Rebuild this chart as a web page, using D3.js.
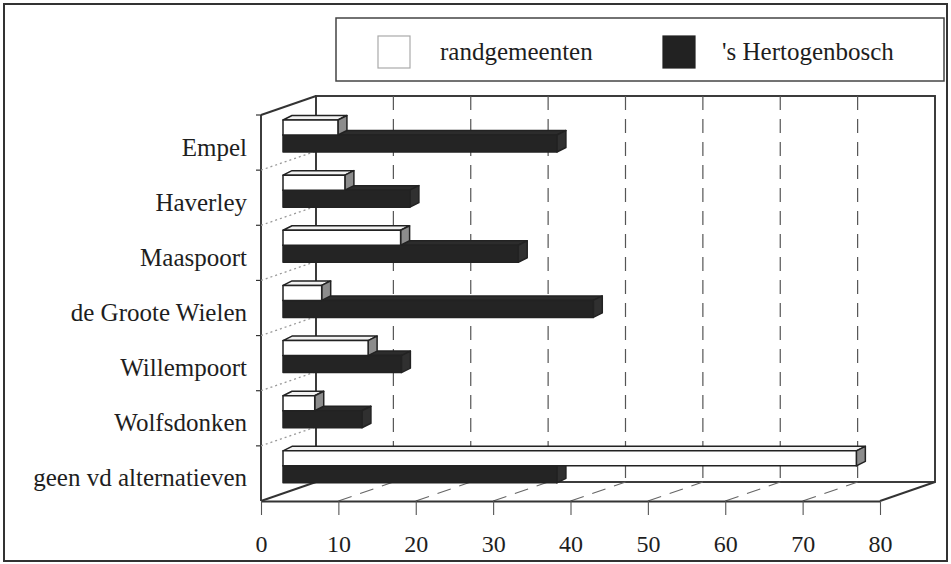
<!DOCTYPE html>
<html>
<head>
<meta charset="utf-8">
<script src="https://cdn.jsdelivr.net/npm/d3@7/dist/d3.min.js"></script>
<style>
  html, body { margin: 0; padding: 0; background: #fff; }
  svg { display: block; }
  text { font-family: "Liberation Serif", "Times New Roman", serif; fill: #1e1e1e; }
</style>
</head>
<body>
<svg id="chart" width="951" height="564"></svg>
<script>
// Categories (top to bottom) and the two series, in percent
const categories = ["Empel", "Haverley", "Maaspoort", "de Groote Wielen", "Willempoort", "Wolfsdonken", "geen vd alternatieven"];
const randgemeenten = [7.1, 8.0, 15.2, 5.0, 11.0, 4.1, 74.1];
const hertogenbosch = [35.4, 16.4, 30.4, 40.1, 15.3, 10.2, 35.4];
const seriesNames = ["randgemeenten", "'s Hertogenbosch"];
const xTicks = [0, 10, 20, 30, 40, 50, 60, 70, 80];

// 3D box geometry
const frontX0 = 261;           // x of value 0 on the front floor edge
const floorY = 501;            // front floor edge
const wallTop = 115;           // top of left wall front edge
const depth = { dx: 55, dy: -19 };   // box depth vector
const barX0 = 283;             // value 0 in the plane of the bars
const barDepth = { dx: 9, dy: -4.5 }; // bar extrusion
const ink = "#222";
const fontSize = 25;

const svg = d3.select("#chart");

const x = d3.scaleLinear().domain([0, 80]).range([0, 619]);
const y = d3.scaleBand().domain(categories).range([wallTop, floorY]);

const backX0 = frontX0 + depth.dx;
const backTop = wallTop + depth.dy;
const backBottom = floorY + depth.dy;
const backX1 = backX0 + x(80);
const frontX1 = frontX0 + x(80);

// outer frame
svg.append("rect")
  .attr("x", 4).attr("y", 4).attr("width", 943).attr("height", 557)
  .attr("fill", "none").attr("stroke", "#333").attr("stroke-width", 2);

// legend
const legend = svg.append("g");
legend.append("rect")
  .attr("x", 336).attr("y", 18).attr("width", 608).attr("height", 63)
  .attr("fill", "#fff").attr("stroke", "#444").attr("stroke-width", 1.5);
const legendItems = [
  { name: seriesNames[0], sx: 378, tx: 440, fill: "#fff", stroke: "#aaa" },
  { name: seriesNames[1], sx: 663, tx: 722, fill: ink, stroke: ink }
];
legendItems.forEach(d => {
  legend.append("rect").attr("x", d.sx).attr("y", 36).attr("width", 32).attr("height", 32)
    .attr("fill", d.fill).attr("stroke", d.stroke).attr("stroke-width", 1.2);
  legend.append("text").attr("x", d.tx).attr("y", 60).attr("font-size", fontSize).text(d.name);
});

// back wall
const box = svg.append("g").attr("fill", "none").attr("stroke", "#333");
box.append("rect").attr("x", backX0).attr("y", backTop)
  .attr("width", backX1 - backX0).attr("height", backBottom - backTop)
  .attr("fill", "#fff").attr("stroke-width", 1.9);
// back wall dashed value gridlines
box.selectAll("line.grid").data(xTicks.filter(t => t > 0 && t < 80)).join("line")
  .attr("class", "grid")
  .attr("x1", t => backX0 + x(t)).attr("x2", t => backX0 + x(t))
  .attr("y1", backTop).attr("y2", backBottom)
  .attr("stroke", "#555").attr("stroke-width", 1.2).attr("stroke-dasharray", "14,9");

// left wall
box.append("line").attr("x1", frontX0).attr("y1", wallTop).attr("x2", frontX0).attr("y2", floorY).attr("stroke-width", 1.9);
box.append("line").attr("x1", frontX0).attr("y1", wallTop).attr("x2", backX0).attr("y2", backTop).attr("stroke-width", 1.9);
const bounds = categories.map(c => y(c)).concat([floorY]);
box.selectAll("line.lwgrid").data(bounds.slice(1, -1)).join("line")
  .attr("class", "lwgrid")
  .attr("x1", frontX0).attr("y1", b => b)
  .attr("x2", backX0).attr("y2", b => b + depth.dy)
  .attr("stroke", "#999").attr("stroke-width", 1.3).attr("stroke-dasharray", "2,3");
box.selectAll("line.ltick").data(bounds.slice(0, -1)).join("line")
  .attr("class", "ltick")
  .attr("x1", frontX0 - 5).attr("x2", frontX0).attr("y1", b => b).attr("y2", b => b)
  .attr("stroke-width", 1.2);

// floor
box.append("line").attr("x1", frontX0).attr("y1", floorY).attr("x2", backX0).attr("y2", backBottom).attr("stroke-width", 1.9);
box.append("line").attr("x1", frontX1).attr("y1", floorY).attr("x2", backX1).attr("y2", backBottom).attr("stroke-width", 1.9);
box.selectAll("line.fgrid").data(xTicks.filter(t => t > 0 && t < 80)).join("line")
  .attr("class", "fgrid")
  .attr("x1", t => frontX0 + x(t)).attr("y1", floorY)
  .attr("x2", t => backX0 + x(t)).attr("y2", backBottom)
  .attr("stroke", "#666").attr("stroke-width", 1.1).attr("stroke-dasharray", "14,9");

// value axis on the front floor edge
const axis = svg.append("g")
  .attr("transform", `translate(${frontX0},${floorY})`)
  .call(d3.axisBottom(x).tickValues(xTicks).tickSize(14).tickPadding(20).tickSizeOuter(0));
axis.select(".domain").attr("stroke", "#333").attr("stroke-width", 1.9);
axis.selectAll(".tick line").attr("stroke", "#555").attr("stroke-width", 1.1);
axis.selectAll(".tick text")
  .attr("font-family", "Liberation Serif, serif").attr("font-size", 24).attr("fill", "#1e1e1e");

// category labels
svg.append("g").selectAll("text").data(categories).join("text")
  .attr("x", 247)
  .attr("y", c => y(c) + y.bandwidth() / 2 + 13)
  .attr("text-anchor", "end")
  .attr("font-size", fontSize)
  .text(c => c);

// extruded bar: front, top and right faces
function bar3d(g, x0, x1, y0, y1, front, top, side) {
  const { dx, dy } = barDepth;
  const pts = a => a.map(p => p.join(",")).join(" ");
  const common = s => s.attr("stroke", ink).attr("stroke-width", 1.5).attr("stroke-linejoin", "round");
  g.append("polygon").attr("points", pts([[x0, y0], [x0 + dx, y0 + dy], [x1 + dx, y0 + dy], [x1, y0]])).attr("fill", top).call(common);
  g.append("polygon").attr("points", pts([[x1, y0], [x1 + dx, y0 + dy], [x1 + dx, y1 + dy], [x1, y1]])).attr("fill", side).call(common);
  g.append("polygon").attr("points", pts([[x0, y0], [x1, y0], [x1, y1], [x0, y1]])).attr("fill", front).call(common);
}

const bars = svg.append("g");
categories.forEach((c, i) => {
  const top = y(c);
  const g = bars.append("g");
  // 's Hertogenbosch (lower bar), then randgemeenten resting on it
  bar3d(g, barX0, barX0 + x(hertogenbosch[i]), top + 20, top + 37, "#242424", "#2c2c2c", "#303030");
  bar3d(g, barX0, barX0 + x(randgemeenten[i]), top + 5, top + 20, "#fff", "#f2f2f2", "#8c8c8c");
});
</script>
</body>
</html>
